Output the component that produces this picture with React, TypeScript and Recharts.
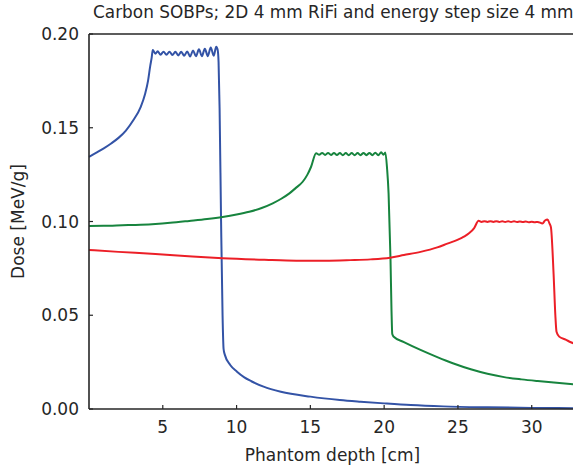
import React from 'react';
import { LineChart, Line, XAxis, YAxis } from 'recharts';

const xTicks = [5, 10, 15, 20, 25, 30];
const yTicks = [0, 0.05, 0.1, 0.15, 0.2];
const title = 'Carbon SOBPs; 2D 4 mm RiFi and energy step size 4 mm';

const blueDepth = [0, 0.5, 1, 1.5, 2, 2.5, 3, 3.5, 3.8, 4.0, 4.15, 4.25, 4.32,
  4.5, 4.65, 4.85, 5.05, 5.25, 5.45, 5.65, 5.85, 6.05, 6.25, 6.45, 6.65, 6.85, 7.05, 7.25, 7.45, 7.65, 7.85, 8.05, 8.25, 8.45, 8.62, 8.72,
  8.78, 8.85, 8.95, 9.05, 9.12, 9.2, 9.57, 10.03, 10.5, 11.0, 11.83, 13, 15, 17, 18.4, 20, 21.8, 24, 27, 30, 33];
const blueDose = [0.1345, 0.1367, 0.139, 0.1416, 0.1446, 0.1485, 0.154, 0.161, 0.168, 0.175, 0.183, 0.1875, 0.1915,
  0.1895, 0.1908, 0.189, 0.1906, 0.1889, 0.1906, 0.1888, 0.1905, 0.1886, 0.1905, 0.1884, 0.1907, 0.188, 0.1912, 0.1881, 0.1918, 0.1882, 0.1922, 0.1882, 0.1928, 0.1884, 0.1932, 0.1915,
  0.185, 0.16, 0.1, 0.05, 0.032, 0.029, 0.0235, 0.0199, 0.017, 0.0148, 0.0119, 0.0092, 0.0066, 0.0048, 0.0039, 0.003, 0.0021, 0.0014, 0.0009, 0.0006, 0.0004];

const greenDepth = [0, 1, 2.26, 3.5, 4.5, 5.5, 6.79, 8, 9.05, 10, 10.86, 11.7, 12.45, 13, 13.58, 14.0, 14.48, 14.8, 15.05, 15.39,
  15.6, 15.8, 16.0, 16.2, 16.4, 16.6, 16.8, 17.0, 17.2, 17.4, 17.6, 17.8, 18.0, 18.2, 18.4, 18.6, 18.8, 19.0, 19.2, 19.4, 19.6, 19.8, 19.95, 20.08,
  20.2, 20.3, 20.43, 20.5, 20.55, 20.65, 21.34, 22.5, 23.6, 24.7, 25.87, 27, 28.13, 29.3, 30.4, 31.5, 33];
const greenDose = [0.0976, 0.0977, 0.098, 0.0983, 0.0987, 0.0993, 0.1003, 0.1013, 0.1024, 0.1037, 0.1052, 0.1072, 0.1097, 0.112, 0.115, 0.1178, 0.1212, 0.125, 0.1292, 0.1364,
  0.1356, 0.1366, 0.1355, 0.1366, 0.1355, 0.1365, 0.1355, 0.1365, 0.1354, 0.1365, 0.1354, 0.1365, 0.1354, 0.1365, 0.1354, 0.1366, 0.1354, 0.1366, 0.1354, 0.1367, 0.1354, 0.1369, 0.1356, 0.1368,
  0.128, 0.115, 0.08, 0.052, 0.04, 0.0385, 0.0357, 0.0314, 0.0277, 0.0243, 0.0212, 0.0188, 0.017, 0.0158, 0.0149, 0.0141, 0.0131];

const redDepth = [0, 2, 4.5, 7, 9.05, 12.4, 14.3, 16, 17.7, 19.08, 20.4, 21.34, 22.47, 23.6, 24.28, 25.0, 25.4, 25.75, 26.1, 26.4,
  26.6, 26.8, 27.0, 27.2, 27.4, 27.6, 27.8, 28.0, 28.2, 28.4, 28.6, 28.8, 29.0, 29.2, 29.4, 29.6, 29.8, 30.0, 30.2, 30.4, 30.73, 30.9, 31.07,
  31.2, 31.3, 31.48, 31.6, 31.68, 31.86, 32.3, 32.65, 33];
const redDose = [0.0848, 0.0838, 0.0827, 0.0813, 0.0804, 0.0795, 0.0791, 0.0791, 0.0794, 0.0798, 0.0807, 0.0821, 0.0838, 0.0862, 0.0882, 0.0903, 0.0919, 0.0937, 0.0965, 0.1004,
  0.0998, 0.1002, 0.0998, 0.1002, 0.0998, 0.1002, 0.0998, 0.1001, 0.0997, 0.1001, 0.0997, 0.1001, 0.0997, 0.1, 0.0997, 0.1, 0.0996, 0.0999, 0.0996, 0.0998, 0.099, 0.1005, 0.1011,
  0.099, 0.097, 0.0723, 0.05, 0.0412, 0.0386, 0.037, 0.0356, 0.0345];

const toData = (xs: number[], ys: number[]) => xs.map((x, i) => ({ x, y: ys[i] }));
const blueData = toData(blueDepth, blueDose);
const greenData = toData(greenDepth, greenDose);
const redData = toData(redDepth, redDose);

const ink = '#262626';
const tickStyle = { fontSize: 17, fill: ink };

export default function App() {
  return (
    <div style={{ position: 'absolute', left: 0, top: 0, width: 573, height: 471, overflow: 'hidden', fontFamily: 'DejaVu Sans', background: '#fff' }}>
      <div style={{ position: 'absolute', left: 93, top: 2, fontSize: 16.9, lineHeight: '20px', whiteSpace: 'nowrap', color: ink }}>{title}</div>
      <LineChart width={600} height={471} margin={{ top: 4, right: 0, bottom: 0, left: 0 }}>
        <XAxis xAxisId={0} dataKey="x" type="number" domain={[0, 33]} ticks={xTicks} height={62}
          tick={tickStyle} tickSize={-4} tickMargin={16}
          axisLine={{ stroke: ink, strokeWidth: 1.6 }} tickLine={{ stroke: ink, strokeWidth: 1.2 }}
          label={{ value: 'Phantom depth [cm]', position: 'insideBottom', offset: 10, fontSize: 17, fill: ink }} />
        <XAxis xAxisId="top" orientation="top" dataKey="x" type="number" domain={[0, 33]} ticks={xTicks} height={30}
          tick={false} tickSize={-4}
          axisLine={{ stroke: ink, strokeWidth: 1.6 }} tickLine={{ stroke: ink, strokeWidth: 1.2 }} />
        <YAxis yAxisId={0} type="number" domain={[0, 0.2]} ticks={yTicks} width={89}
          tick={tickStyle} tickSize={-4} tickMargin={14} tickFormatter={(v: number) => v.toFixed(2)}
          axisLine={{ stroke: ink, strokeWidth: 1.6 }} tickLine={{ stroke: ink, strokeWidth: 1.2 }}
          label={{ value: 'Dose [MeV/g]', angle: -90, position: 'insideLeft', offset: 18, fontSize: 17, fill: ink, style: { textAnchor: 'middle' } }} />
        <YAxis yAxisId="right" orientation="right" type="number" domain={[0, 0.2]} ticks={yTicks} width={24}
          tick={false} tickSize={-4}
          axisLine={{ stroke: ink, strokeWidth: 1.6 }} tickLine={{ stroke: ink, strokeWidth: 1.2 }} />
        <Line data={blueData} dataKey="y" type="monotone" stroke="#3353a6" strokeWidth={2} dot={false} isAnimationActive={false} />
        <Line data={greenData} dataKey="y" type="monotone" stroke="#17843e" strokeWidth={2} dot={false} isAnimationActive={false} />
        <Line data={redData} dataKey="y" type="monotone" stroke="#ec1f27" strokeWidth={2} dot={false} isAnimationActive={false} />
      </LineChart>
    </div>
  );
}
